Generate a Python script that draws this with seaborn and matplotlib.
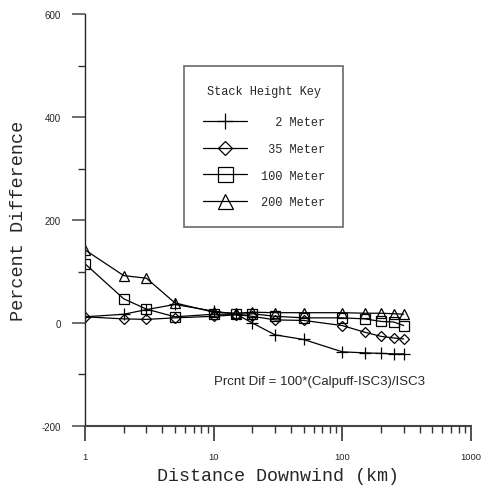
import numpy as np
import pandas as pd
import matplotlib
matplotlib.use("Agg")
import matplotlib.pyplot as plt
from matplotlib.lines import Line2D
from matplotlib.ticker import LogLocator, NullFormatter, FixedLocator
import seaborn as sns

distance = [1, 2, 3, 5, 10, 15, 20, 30, 50, 100, 150, 200, 250, 300]
stack_labels = ["  2 Meter", " 35 Meter", "100 Meter", "200 Meter"]
pd_2m = [12, 17, 26, 36, 23, 17, 0, -23, -32, -56, -58, -59, -60, -60]
pd_35m = [12, 8, 7, 10, 13, 16, 13, 6, 5, -5, -18, -26, -29, -31]
pd_100m = [115, 47, 27, 12, 17, 17, 18, 13, 10, 10, 8, 3, 2, -5]
pd_200m = [142, 92, 87, 39, 21, 19, 21, 20, 20, 20, 19, 19, 18, 17]
x_tick_values = [1, 10, 100, 1000]
x_tick_labels = ["1", "10", "100", "1000"]
y_tick_values = [-200, 0, 200, 400, 600]

series = [pd_2m, pd_35m, pd_100m, pd_200m]
df = pd.concat([
    pd.DataFrame({"Distance": distance, "Pct": vals, "Stack": lab})
    for vals, lab in zip(series, stack_labels)
], ignore_index=True)

sns.set_style("ticks")
plt.rcParams["font.family"] = ["Liberation Sans", "DejaVu Sans"]
mono = "Liberation Mono"

fig = plt.figure(figsize=(4.84, 4.89), dpi=100)
ax = fig.add_axes([0.1756, 0.1268, 0.7975, 0.8425])

marker_map = dict(zip(stack_labels, ["+", "D", "s", "^"]))
size_map = {"  2 Meter": 8, " 35 Meter": 5.2, "100 Meter": 7.5, "200 Meter": 7.5}
leg_size_map = {"  2 Meter": 12, " 35 Meter": 7.6, "100 Meter": 10.8, "200 Meter": 10.8}

for lab in stack_labels:
    sub = df[df["Stack"] == lab]
    sns.lineplot(data=sub, x="Distance", y="Pct", ax=ax, color="black",
                 linewidth=0.9, marker=marker_map[lab], markersize=size_map[lab],
                 markerfacecolor="none", markeredgecolor="black",
                 markeredgewidth=0.9, legend=False)

ax.set_xscale("log")
ax.set_xlim(1, 1000)
ax.set_ylim(-200, 600)

ax.xaxis.set_major_locator(FixedLocator(x_tick_values))
ax.set_xticklabels(x_tick_labels)
ax.xaxis.set_minor_locator(LogLocator(base=10, subs=np.arange(2, 10)))
ax.xaxis.set_minor_formatter(NullFormatter())
ax.yaxis.set_major_locator(FixedLocator(y_tick_values))
ax.yaxis.set_minor_locator(FixedLocator([-100, 100, 300, 500]))
ax.set_yticklabels([str(v) for v in y_tick_values])

ax.tick_params(axis="x", which="major", length=11, width=1.2, direction="out",
               labelsize=6.8, pad=8, color="#333333")
ax.tick_params(axis="x", which="minor", length=5, width=1.0, direction="out",
               color="#333333")
ax.tick_params(axis="y", which="major", length=9.5, width=1.2, direction="out",
               labelsize=7.0, pad=8, color="#555555")
ax.tick_params(axis="y", which="minor", length=5, width=1.0, direction="out",
               color="#333333")

sns.despine(ax=ax)
ax.spines["left"].set_linewidth(1.0)
ax.spines["bottom"].set_linewidth(1.5)
ax.spines["bottom"].set_color("#444444")

ax.set_xlabel("Distance Downwind (km)", fontsize=13.2, family=mono, labelpad=4)
ax.set_ylabel("Percent Difference", fontsize=13.3, family=mono, labelpad=10)

ax.text(10, -113, "Prcnt Dif = 100*(Calpuff-ISC3)/ISC3", fontsize=9.5,
        va="center", ha="left")

handles = [Line2D([0], [0], color="black", linewidth=0.9, marker=marker_map[l],
                  markersize=leg_size_map[l], markerfacecolor="none",
                  markeredgecolor="black", markeredgewidth=0.9)
           for l in stack_labels]
leg = ax.legend(handles, stack_labels, title="Stack Height Key",
                loc="upper left", bbox_to_anchor=(0.2565, 0.8738),
                frameon=True, fancybox=False, edgecolor="#444444",
                prop={"family": mono, "size": 8.6}, handlelength=3.7,
                handletextpad=1.17, labelspacing=1.24, borderpad=1.55,
                borderaxespad=0)
leg.get_title().set_fontfamily(mono)
leg.get_title().set_fontsize(8.6)
leg._legend_box.sep = 14
leg.get_frame().set_linewidth(1.2)

fig.savefig("out.png", dpi=100)
